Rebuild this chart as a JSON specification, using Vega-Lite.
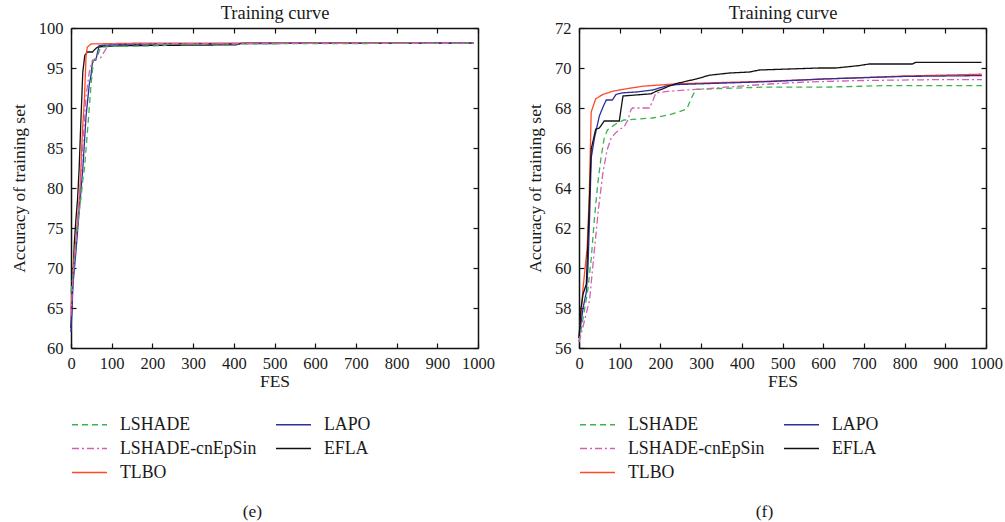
{
  "$schema": "https://vega.github.io/schema/vega-lite/v6.json",
  "padding": {"left": 10, "top": 3, "right": 5, "bottom": 1},
  "config": {
    "font": "Liberation Serif",
    "view": {"stroke": null},
    "axis": {"domainColor": "#111111", "domainWidth": 1.5, "tickColor": "#111111", "tickWidth": 1.2, "tickSize": -5, "labelFont": "Liberation Serif", "labelFontSize": 16.5, "labelColor": "#1a1a1a", "titleFont": "Liberation Serif", "titleFontSize": 17.5, "titleFontWeight": "normal", "titleColor": "#1a1a1a", "grid": false, "labelOverlap": false, "labelFlush": false, "format": "d"},
    "legend": {"orient": "bottom", "columns": 2, "symbolType": "stroke", "symbolSize": 1225, "symbolStrokeWidth": 1.5, "clipHeight": 17, "labelFont": "Liberation Serif", "labelFontSize": 17.8, "labelColor": "#1a1a1a", "rowPadding": 5, "columnPadding": 18, "labelOffset": 12, "offset": 26, "labelLimit": 300},
    "title": {"font": "Liberation Serif", "fontSize": 17.5, "fontWeight": "normal", "color": "#1a1a1a"}
  },
  "datasets": {
    "e": [
      {"algorithm": "EFLA", "fes": 0, "accuracy": 62.5}, {"algorithm": "EFLA", "fes": 4, "accuracy": 68}, {"algorithm": "EFLA", "fes": 8, "accuracy": 73}, {"algorithm": "EFLA", "fes": 12, "accuracy": 76}, {"algorithm": "EFLA", "fes": 16, "accuracy": 78.5}, {"algorithm": "EFLA", "fes": 20, "accuracy": 82.4}, {"algorithm": "EFLA", "fes": 24, "accuracy": 88}, {"algorithm": "EFLA", "fes": 29, "accuracy": 94.5}, {"algorithm": "EFLA", "fes": 34, "accuracy": 96.6}, {"algorithm": "EFLA", "fes": 40, "accuracy": 97.0}, {"algorithm": "EFLA", "fes": 53, "accuracy": 97.0}, {"algorithm": "EFLA", "fes": 58, "accuracy": 97.3}, {"algorithm": "EFLA", "fes": 65, "accuracy": 97.6}, {"algorithm": "EFLA", "fes": 80, "accuracy": 97.7}, {"algorithm": "EFLA", "fes": 150, "accuracy": 97.8}, {"algorithm": "EFLA", "fes": 405, "accuracy": 97.9}, {"algorithm": "EFLA", "fes": 420, "accuracy": 98.1}, {"algorithm": "EFLA", "fes": 990, "accuracy": 98.1},
      {"algorithm": "TLBO", "fes": 0, "accuracy": 64.7}, {"algorithm": "TLBO", "fes": 4, "accuracy": 68}, {"algorithm": "TLBO", "fes": 8, "accuracy": 71.5}, {"algorithm": "TLBO", "fes": 13, "accuracy": 74}, {"algorithm": "TLBO", "fes": 17, "accuracy": 76.5}, {"algorithm": "TLBO", "fes": 21, "accuracy": 79}, {"algorithm": "TLBO", "fes": 24, "accuracy": 82}, {"algorithm": "TLBO", "fes": 28, "accuracy": 87}, {"algorithm": "TLBO", "fes": 33, "accuracy": 91.1}, {"algorithm": "TLBO", "fes": 37, "accuracy": 96.5}, {"algorithm": "TLBO", "fes": 40, "accuracy": 97.6}, {"algorithm": "TLBO", "fes": 49, "accuracy": 98.0}, {"algorithm": "TLBO", "fes": 100, "accuracy": 98.05}, {"algorithm": "TLBO", "fes": 160, "accuracy": 98.1}, {"algorithm": "TLBO", "fes": 990, "accuracy": 98.1},
      {"algorithm": "LAPO", "fes": 0, "accuracy": 62}, {"algorithm": "LAPO", "fes": 5, "accuracy": 68}, {"algorithm": "LAPO", "fes": 12, "accuracy": 72}, {"algorithm": "LAPO", "fes": 20, "accuracy": 77}, {"algorithm": "LAPO", "fes": 25, "accuracy": 80}, {"algorithm": "LAPO", "fes": 29, "accuracy": 82.4}, {"algorithm": "LAPO", "fes": 37, "accuracy": 89}, {"algorithm": "LAPO", "fes": 45, "accuracy": 93}, {"algorithm": "LAPO", "fes": 49, "accuracy": 94}, {"algorithm": "LAPO", "fes": 53, "accuracy": 95.9}, {"algorithm": "LAPO", "fes": 61, "accuracy": 96}, {"algorithm": "LAPO", "fes": 69, "accuracy": 97.8}, {"algorithm": "LAPO", "fes": 100, "accuracy": 97.9}, {"algorithm": "LAPO", "fes": 200, "accuracy": 98.0}, {"algorithm": "LAPO", "fes": 300, "accuracy": 98.05}, {"algorithm": "LAPO", "fes": 990, "accuracy": 98.1},
      {"algorithm": "LSHADE", "fes": 0, "accuracy": 67}, {"algorithm": "LSHADE", "fes": 5, "accuracy": 69}, {"algorithm": "LSHADE", "fes": 10, "accuracy": 72}, {"algorithm": "LSHADE", "fes": 15, "accuracy": 75}, {"algorithm": "LSHADE", "fes": 20, "accuracy": 77}, {"algorithm": "LSHADE", "fes": 25, "accuracy": 79}, {"algorithm": "LSHADE", "fes": 29, "accuracy": 81}, {"algorithm": "LSHADE", "fes": 33, "accuracy": 82.4}, {"algorithm": "LSHADE", "fes": 41, "accuracy": 87.4}, {"algorithm": "LSHADE", "fes": 49, "accuracy": 92.8}, {"algorithm": "LSHADE", "fes": 55, "accuracy": 95.9}, {"algorithm": "LSHADE", "fes": 65, "accuracy": 96.5}, {"algorithm": "LSHADE", "fes": 73, "accuracy": 97.6}, {"algorithm": "LSHADE", "fes": 100, "accuracy": 97.7}, {"algorithm": "LSHADE", "fes": 230, "accuracy": 97.8}, {"algorithm": "LSHADE", "fes": 240, "accuracy": 98.0}, {"algorithm": "LSHADE", "fes": 990, "accuracy": 98.1},
      {"algorithm": "LSHADE-cnEpSin", "fes": 0, "accuracy": 64}, {"algorithm": "LSHADE-cnEpSin", "fes": 5, "accuracy": 69}, {"algorithm": "LSHADE-cnEpSin", "fes": 10, "accuracy": 72}, {"algorithm": "LSHADE-cnEpSin", "fes": 15, "accuracy": 75}, {"algorithm": "LSHADE-cnEpSin", "fes": 20, "accuracy": 78}, {"algorithm": "LSHADE-cnEpSin", "fes": 25, "accuracy": 82}, {"algorithm": "LSHADE-cnEpSin", "fes": 29, "accuracy": 85.3}, {"algorithm": "LSHADE-cnEpSin", "fes": 37, "accuracy": 91.5}, {"algorithm": "LSHADE-cnEpSin", "fes": 45, "accuracy": 94.5}, {"algorithm": "LSHADE-cnEpSin", "fes": 53, "accuracy": 96}, {"algorithm": "LSHADE-cnEpSin", "fes": 65, "accuracy": 96.2}, {"algorithm": "LSHADE-cnEpSin", "fes": 73, "accuracy": 96.3}, {"algorithm": "LSHADE-cnEpSin", "fes": 86, "accuracy": 97.4}, {"algorithm": "LSHADE-cnEpSin", "fes": 90, "accuracy": 98.0}, {"algorithm": "LSHADE-cnEpSin", "fes": 200, "accuracy": 98.05}, {"algorithm": "LSHADE-cnEpSin", "fes": 990, "accuracy": 98.1}
    ],
    "f": [
      {"algorithm": "TLBO", "fes": 0, "accuracy": 56.5}, {"algorithm": "TLBO", "fes": 10, "accuracy": 59}, {"algorithm": "TLBO", "fes": 20, "accuracy": 61}, {"algorithm": "TLBO", "fes": 25, "accuracy": 63.5}, {"algorithm": "TLBO", "fes": 30, "accuracy": 67.8}, {"algorithm": "TLBO", "fes": 41, "accuracy": 68.46}, {"algorithm": "TLBO", "fes": 59, "accuracy": 68.68}, {"algorithm": "TLBO", "fes": 83, "accuracy": 68.84}, {"algorithm": "TLBO", "fes": 116, "accuracy": 68.96}, {"algorithm": "TLBO", "fes": 157, "accuracy": 69.09}, {"algorithm": "TLBO", "fes": 206, "accuracy": 69.16}, {"algorithm": "TLBO", "fes": 239, "accuracy": 69.21}, {"algorithm": "TLBO", "fes": 467, "accuracy": 69.34}, {"algorithm": "TLBO", "fes": 600, "accuracy": 69.45}, {"algorithm": "TLBO", "fes": 800, "accuracy": 69.6}, {"algorithm": "TLBO", "fes": 990, "accuracy": 69.69},
      {"algorithm": "LAPO", "fes": 0, "accuracy": 56.5}, {"algorithm": "LAPO", "fes": 10, "accuracy": 58}, {"algorithm": "LAPO", "fes": 18, "accuracy": 58.8}, {"algorithm": "LAPO", "fes": 22, "accuracy": 60}, {"algorithm": "LAPO", "fes": 26, "accuracy": 62.5}, {"algorithm": "LAPO", "fes": 30, "accuracy": 65.5}, {"algorithm": "LAPO", "fes": 38, "accuracy": 66.5}, {"algorithm": "LAPO", "fes": 50, "accuracy": 67.6}, {"algorithm": "LAPO", "fes": 60, "accuracy": 68.1}, {"algorithm": "LAPO", "fes": 67, "accuracy": 68.4}, {"algorithm": "LAPO", "fes": 82, "accuracy": 68.4}, {"algorithm": "LAPO", "fes": 91, "accuracy": 68.68}, {"algorithm": "LAPO", "fes": 108, "accuracy": 68.76}, {"algorithm": "LAPO", "fes": 141, "accuracy": 68.8}, {"algorithm": "LAPO", "fes": 181, "accuracy": 68.9}, {"algorithm": "LAPO", "fes": 214, "accuracy": 69.1}, {"algorithm": "LAPO", "fes": 239, "accuracy": 69.17}, {"algorithm": "LAPO", "fes": 467, "accuracy": 69.32}, {"algorithm": "LAPO", "fes": 600, "accuracy": 69.45}, {"algorithm": "LAPO", "fes": 800, "accuracy": 69.58}, {"algorithm": "LAPO", "fes": 990, "accuracy": 69.62},
      {"algorithm": "EFLA", "fes": 0, "accuracy": 56.5}, {"algorithm": "EFLA", "fes": 5, "accuracy": 58}, {"algorithm": "EFLA", "fes": 10, "accuracy": 58.7}, {"algorithm": "EFLA", "fes": 18, "accuracy": 59.2}, {"algorithm": "EFLA", "fes": 25, "accuracy": 63}, {"algorithm": "EFLA", "fes": 30, "accuracy": 65.95}, {"algorithm": "EFLA", "fes": 41, "accuracy": 66.94}, {"algorithm": "EFLA", "fes": 50, "accuracy": 67.0}, {"algorithm": "EFLA", "fes": 62, "accuracy": 67.35}, {"algorithm": "EFLA", "fes": 99, "accuracy": 67.35}, {"algorithm": "EFLA", "fes": 108, "accuracy": 68.6}, {"algorithm": "EFLA", "fes": 177, "accuracy": 68.71}, {"algorithm": "EFLA", "fes": 190, "accuracy": 68.84}, {"algorithm": "EFLA", "fes": 206, "accuracy": 68.96}, {"algorithm": "EFLA", "fes": 222, "accuracy": 69.1}, {"algorithm": "EFLA", "fes": 239, "accuracy": 69.22}, {"algorithm": "EFLA", "fes": 264, "accuracy": 69.34}, {"algorithm": "EFLA", "fes": 288, "accuracy": 69.45}, {"algorithm": "EFLA", "fes": 321, "accuracy": 69.64}, {"algorithm": "EFLA", "fes": 370, "accuracy": 69.75}, {"algorithm": "EFLA", "fes": 419, "accuracy": 69.8}, {"algorithm": "EFLA", "fes": 443, "accuracy": 69.9}, {"algorithm": "EFLA", "fes": 516, "accuracy": 69.95}, {"algorithm": "EFLA", "fes": 590, "accuracy": 70.0}, {"algorithm": "EFLA", "fes": 631, "accuracy": 70.0}, {"algorithm": "EFLA", "fes": 688, "accuracy": 70.12}, {"algorithm": "EFLA", "fes": 713, "accuracy": 70.2}, {"algorithm": "EFLA", "fes": 819, "accuracy": 70.2}, {"algorithm": "EFLA", "fes": 827, "accuracy": 70.28}, {"algorithm": "EFLA", "fes": 989, "accuracy": 70.28},
      {"algorithm": "LSHADE", "fes": 0, "accuracy": 56.3}, {"algorithm": "LSHADE", "fes": 14, "accuracy": 57.96}, {"algorithm": "LSHADE", "fes": 22, "accuracy": 58.96}, {"algorithm": "LSHADE", "fes": 30, "accuracy": 60.46}, {"algorithm": "LSHADE", "fes": 38, "accuracy": 62.5}, {"algorithm": "LSHADE", "fes": 46, "accuracy": 64.2}, {"algorithm": "LSHADE", "fes": 54, "accuracy": 65.5}, {"algorithm": "LSHADE", "fes": 62, "accuracy": 66.5}, {"algorithm": "LSHADE", "fes": 70, "accuracy": 66.9}, {"algorithm": "LSHADE", "fes": 90, "accuracy": 67.2}, {"algorithm": "LSHADE", "fes": 110, "accuracy": 67.4}, {"algorithm": "LSHADE", "fes": 180, "accuracy": 67.5}, {"algorithm": "LSHADE", "fes": 220, "accuracy": 67.65}, {"algorithm": "LSHADE", "fes": 245, "accuracy": 67.8}, {"algorithm": "LSHADE", "fes": 265, "accuracy": 67.95}, {"algorithm": "LSHADE", "fes": 275, "accuracy": 68.45}, {"algorithm": "LSHADE", "fes": 287, "accuracy": 68.93}, {"algorithm": "LSHADE", "fes": 330, "accuracy": 68.96}, {"algorithm": "LSHADE", "fes": 450, "accuracy": 69.04}, {"algorithm": "LSHADE", "fes": 600, "accuracy": 69.04}, {"algorithm": "LSHADE", "fes": 700, "accuracy": 69.09}, {"algorithm": "LSHADE", "fes": 750, "accuracy": 69.12}, {"algorithm": "LSHADE", "fes": 990, "accuracy": 69.12},
      {"algorithm": "LSHADE-cnEpSin", "fes": 0, "accuracy": 56.3}, {"algorithm": "LSHADE-cnEpSin", "fes": 14, "accuracy": 57.4}, {"algorithm": "LSHADE-cnEpSin", "fes": 26, "accuracy": 58.4}, {"algorithm": "LSHADE-cnEpSin", "fes": 34, "accuracy": 60.1}, {"algorithm": "LSHADE-cnEpSin", "fes": 47, "accuracy": 62.8}, {"algorithm": "LSHADE-cnEpSin", "fes": 59, "accuracy": 64.8}, {"algorithm": "LSHADE-cnEpSin", "fes": 69, "accuracy": 65.9}, {"algorithm": "LSHADE-cnEpSin", "fes": 79, "accuracy": 66.5}, {"algorithm": "LSHADE-cnEpSin", "fes": 91, "accuracy": 66.78}, {"algorithm": "LSHADE-cnEpSin", "fes": 112, "accuracy": 67.1}, {"algorithm": "LSHADE-cnEpSin", "fes": 120, "accuracy": 67.4}, {"algorithm": "LSHADE-cnEpSin", "fes": 128, "accuracy": 67.93}, {"algorithm": "LSHADE-cnEpSin", "fes": 132, "accuracy": 68.0}, {"algorithm": "LSHADE-cnEpSin", "fes": 173, "accuracy": 68.0}, {"algorithm": "LSHADE-cnEpSin", "fes": 182, "accuracy": 68.4}, {"algorithm": "LSHADE-cnEpSin", "fes": 189, "accuracy": 68.76}, {"algorithm": "LSHADE-cnEpSin", "fes": 222, "accuracy": 68.84}, {"algorithm": "LSHADE-cnEpSin", "fes": 263, "accuracy": 68.9}, {"algorithm": "LSHADE-cnEpSin", "fes": 287, "accuracy": 68.93}, {"algorithm": "LSHADE-cnEpSin", "fes": 467, "accuracy": 69.2}, {"algorithm": "LSHADE-cnEpSin", "fes": 549, "accuracy": 69.29}, {"algorithm": "LSHADE-cnEpSin", "fes": 680, "accuracy": 69.37}, {"algorithm": "LSHADE-cnEpSin", "fes": 884, "accuracy": 69.42}, {"algorithm": "LSHADE-cnEpSin", "fes": 990, "accuracy": 69.42}
    ]
  },
  "hconcat": [
    {
      "width": 407, "height": 320,
      "data": {"name": "e"},
      "title": {"text": "(e)", "orient": "bottom", "frame": "bounds", "anchor": "middle", "offset": 21},
      "layer": [
        {
          "mark": {"type": "line", "strokeWidth": 1.3},
          "encoding": {
            "x": {"field": "fes", "type": "quantitative", "scale": {"domain": [0, 1000], "nice": false}, "axis": {"orient": "bottom", "title": "FES", "values": [0, 100, 200, 300, 400, 500, 600, 700, 800, 900, 1000], "labelPadding": 12, "titlePadding": 1}},
            "y": {"field": "accuracy", "type": "quantitative", "scale": {"domain": [60, 100], "nice": false, "zero": false}, "axis": {"orient": "left", "title": "Accuracy of training set", "values": [60, 65, 70, 75, 80, 85, 90, 95, 100], "labelPadding": 13, "titlePadding": 10}},
            "color": {"field": "algorithm", "type": "nominal", "title": null, "scale": {"domain": ["LSHADE", "LAPO", "LSHADE-cnEpSin", "EFLA", "TLBO"], "range": ["#3ab54a", "#2e2e9e", "#d35fb7", "#111111", "#ff4a26"]}},
            "strokeDash": {"field": "algorithm", "type": "nominal", "title": null, "scale": {"domain": ["LSHADE", "LAPO", "LSHADE-cnEpSin", "EFLA", "TLBO"], "range": [[6, 4], [1, 0], [7, 3, 2, 3], [1, 0], [1, 0]]}}
          }
        },
        {
          "mark": {"type": "line", "opacity": 0},
          "encoding": {
            "x": {"field": "fes", "type": "quantitative", "axis": {"orient": "top", "title": "Training curve", "titleFontSize": 18.5, "labels": false, "values": [0, 100, 200, 300, 400, 500, 600, 700, 800, 900, 1000], "titlePadding": 5}},
            "y": {"field": "accuracy", "type": "quantitative", "axis": {"orient": "right", "title": null, "labels": false, "values": [60, 65, 70, 75, 80, 85, 90, 95, 100]}},
            "detail": {"field": "algorithm"}
          }
        }
      ]
    },
    {
      "width": 407, "height": 320,
      "data": {"name": "f"},
      "title": {"text": "(f)", "orient": "bottom", "frame": "bounds", "anchor": "middle", "offset": 21},
      "layer": [
        {
          "mark": {"type": "line", "strokeWidth": 1.3},
          "encoding": {
            "x": {"field": "fes", "type": "quantitative", "scale": {"domain": [0, 1000], "nice": false}, "axis": {"orient": "bottom", "title": "FES", "values": [0, 100, 200, 300, 400, 500, 600, 700, 800, 900, 1000], "labelPadding": 12, "titlePadding": 1}},
            "y": {"field": "accuracy", "type": "quantitative", "scale": {"domain": [56, 72], "nice": false, "zero": false}, "axis": {"orient": "left", "title": "Accuracy of training set", "values": [56, 58, 60, 62, 64, 66, 68, 70, 72], "labelPadding": 13, "titlePadding": 10}},
            "color": {"field": "algorithm", "type": "nominal", "title": null, "scale": {"domain": ["LSHADE", "LAPO", "LSHADE-cnEpSin", "EFLA", "TLBO"], "range": ["#3ab54a", "#2e2e9e", "#d35fb7", "#111111", "#ff4a26"]}},
            "strokeDash": {"field": "algorithm", "type": "nominal", "title": null, "scale": {"domain": ["LSHADE", "LAPO", "LSHADE-cnEpSin", "EFLA", "TLBO"], "range": [[6, 4], [1, 0], [7, 3, 2, 3], [1, 0], [1, 0]]}}
          }
        },
        {
          "mark": {"type": "line", "opacity": 0},
          "encoding": {
            "x": {"field": "fes", "type": "quantitative", "axis": {"orient": "top", "title": "Training curve", "titleFontSize": 18.5, "labels": false, "values": [0, 100, 200, 300, 400, 500, 600, 700, 800, 900, 1000], "titlePadding": 5}},
            "y": {"field": "accuracy", "type": "quantitative", "axis": {"orient": "right", "title": null, "labels": false, "values": [56, 58, 60, 62, 64, 66, 68, 70, 72]}},
            "detail": {"field": "algorithm"}
          }
        }
      ]
    }
  ],
  "spacing": 31,
  "resolve": {"scale": {"x": "independent", "y": "independent", "color": "independent", "strokeDash": "independent"}, "legend": {"color": "independent", "strokeDash": "independent"}}
}
